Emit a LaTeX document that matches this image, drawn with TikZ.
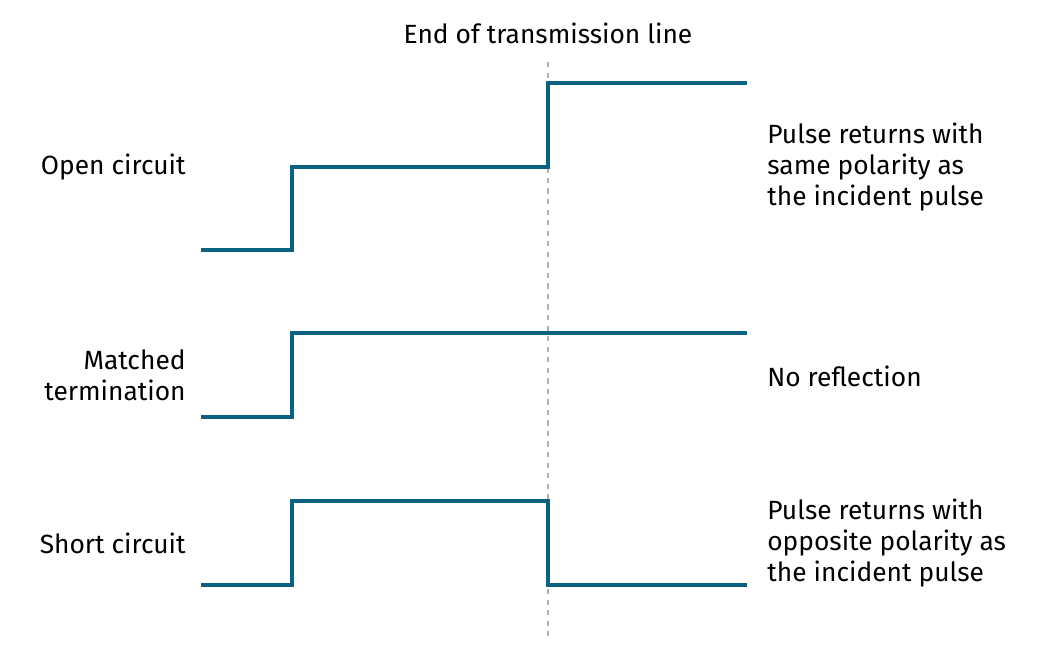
\documentclass[tikz,border=0pt]{standalone}
\usepackage{fontspec}
\setmainfont{Fira Sans}
\definecolor{pulseteal}{HTML}{0B6280}
\tikzstyle{none}=[inner sep=0pt]
\tikzstyle{lbl}=[inner sep=0pt,font=\fontsize{15}{17.6}\selectfont]
\tikzstyle{pulse}=[-,draw=pulseteal,line width=2.3pt]
\tikzstyle{endline}=[-,draw=gray!60,dashed,line width=0.8pt]

\begin{document}
\begin{tikzpicture}[x=0.02cm,y=-0.02cm]
	\useasboundingbox (0,0) rectangle (1042,658);
	% end of line marker
	\node [style=lbl] (title) at (548,33) {End of transmission line};
	\coordinate (top) at (548,62);
	\coordinate (bot) at (548,636);
	\draw [style=endline] (top) to (bot);
	% open circuit
	\node [style=lbl, anchor=east] (oc) at (186,167) {Open circuit};
	\node [style=lbl, anchor=west, align=left] (ocr) at (767,167) {Pulse returns with\\same polarity as\\the incident pulse};
	\coordinate (o1) at (201,250);
	\coordinate (o2) at (292,250);
	\coordinate (o3) at (292,167);
	\coordinate (o4) at (548,167);
	\coordinate (o5) at (548,83);
	\coordinate (o6) at (747,83);
	\draw [style=pulse] (o1) -- (o2) -- (o3) -- (o4) -- (o5) -- (o6);
	% matched termination
	\node [style=lbl, anchor=east, align=right] (mt) at (186,375) {Matched\\termination};
	\node [style=lbl, anchor=west] (mtr) at (767,376) {No reflection};
	\coordinate (m1) at (201,417);
	\coordinate (m2) at (292,417);
	\coordinate (m3) at (292,333);
	\coordinate (m4) at (747,333);
	\draw [style=pulse] (m1) -- (m2) -- (m3) -- (m4);
	% short circuit
	\node [style=lbl, anchor=east] (sc) at (186,543) {Short circuit};
	\node [style=lbl, anchor=west, align=left] (scr) at (767,543) {Pulse returns with\\opposite polarity as\\the incident pulse};
	\coordinate (s1) at (201,585);
	\coordinate (s2) at (292,585);
	\coordinate (s3) at (292,501);
	\coordinate (s4) at (548,501);
	\coordinate (s5) at (548,585);
	\coordinate (s6) at (747,585);
	\draw [style=pulse] (s1) -- (s2) -- (s3) -- (s4) -- (s5) -- (s6);
\end{tikzpicture}
\end{document}
